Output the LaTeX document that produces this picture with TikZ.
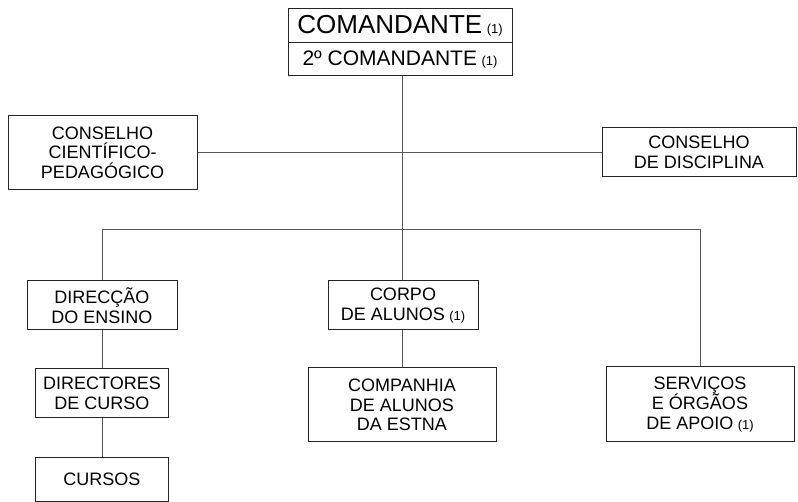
\documentclass[tikz,border=0pt]{standalone}
\usepackage{fontspec}
\setmainfont{Liberation Sans}
\newcommand{\nota}{{\hspace{4.5pt}\fontsize{13}{13}\selectfont(1)}}

\begin{document}
\begin{tikzpicture}[x=1pt,y=-1pt,
    caixa/.style={draw=black!85,line width=1pt,align=center,inner sep=0pt,
      font=\fontsize{18}{19.5}\selectfont},
    ligacao/.style={draw=black!65,line width=0.9pt}]
  \useasboundingbox (0,0) rectangle (798,502);
  % comando
  \node[caixa,minimum width=224pt,minimum height=34pt,font=\fontsize{26}{26}\selectfont] (cmd) at (400,26) {COMANDANTE\nota};
  \node[caixa,minimum width=224pt,minimum height=33pt,font=\fontsize{21}{21}\selectfont] (cmd2) at (400,59.5) {2º COMANDANTE\nota};
  % conselhos
  \node[caixa,minimum width=189pt,minimum height=74pt] (ccp) at (102.5,152.5) {CONSELHO\\CIENTÍFICO-\\PEDAGÓGICO};
  \node[caixa,minimum width=194pt,minimum height=49pt] (cd) at (699,152.5) {CONSELHO\\DE DISCIPLINA};
  % ensino
  \node[caixa,minimum width=150pt,minimum height=49pt] (de) at (102,305.5) {DIRECÇÃO\\DO ENSINO};
  \node[caixa,minimum width=133pt,minimum height=49pt] (dc) at (102,393.5) {DIRECTORES\\DE CURSO};
  \node[caixa,minimum width=133pt,minimum height=44pt] (cur) at (102,479) {CURSOS};
  % alunos
  \node[caixa,minimum width=150pt,minimum height=49pt] (ca) at (403,305.5) {CORPO\\DE ALUNOS\nota};
  \node[caixa,minimum width=188pt,minimum height=74pt] (cia) at (402,405) {COMPANHIA\\DE ALUNOS\\DA ESTNA};
  % apoio
  \node[caixa,minimum width=188pt,minimum height=75pt] (sa) at (700,404.5) {SERVIÇOS\\E ÓRGÃOS\\DE APOIO\nota};

  \coordinate (tronco) at (402,229);
  \draw[ligacao] (cmd2.south -| tronco) -- (tronco);
  \draw[ligacao] (ccp.east) -- (cd.west);
  \draw[ligacao] (de.north) -- (de.north |- tronco) -- (sa.north |- tronco) -- (sa.north);
  \draw[ligacao] (tronco) -- (tronco |- ca.north);
  \draw[ligacao] (ca.south -| tronco) -- (tronco |- cia.north);
  \draw[ligacao] (de.south) -- (dc.north);
  \draw[ligacao] (dc.south) -- (cur.north);
\end{tikzpicture}
\end{document}
